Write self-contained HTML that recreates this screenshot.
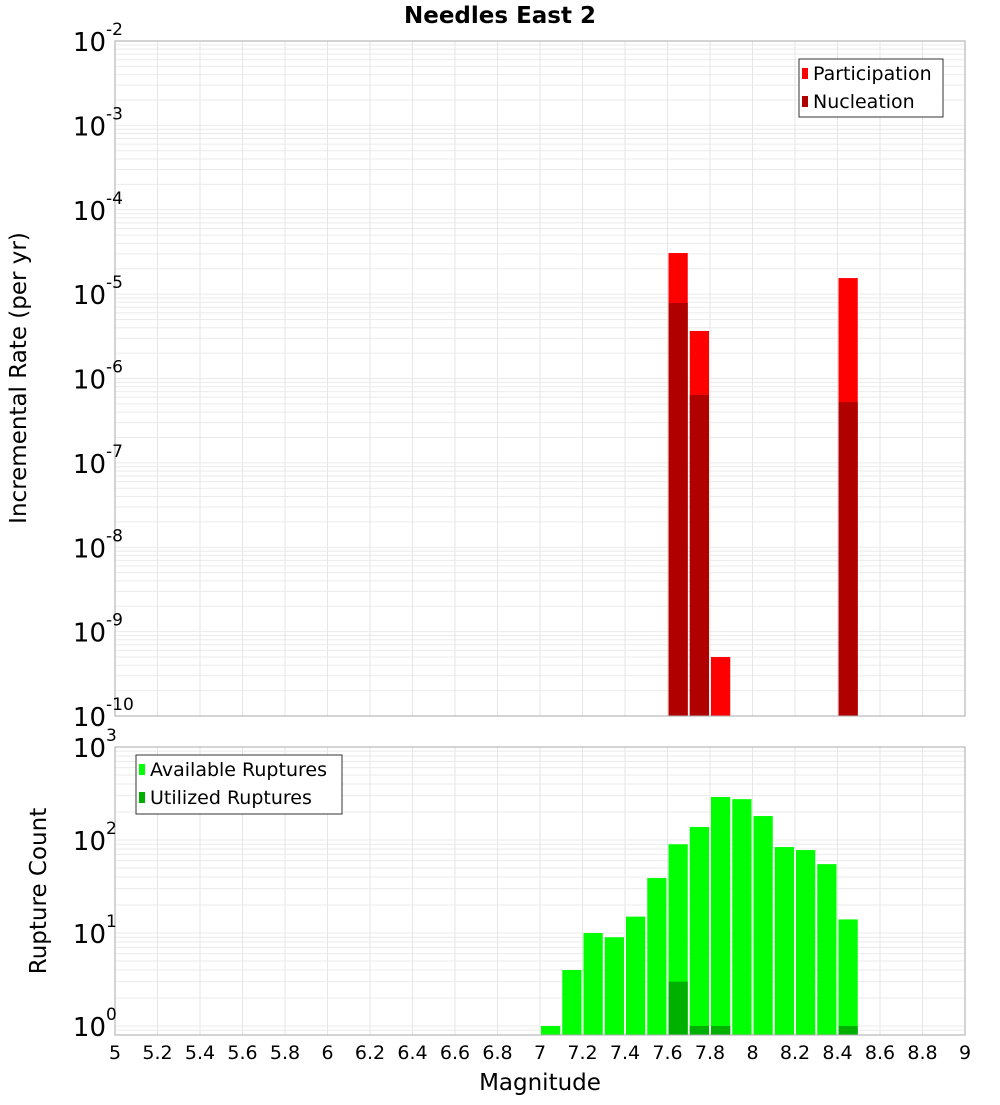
<!DOCTYPE html>
<html><head><meta charset="utf-8"><style>
body{margin:0;background:#fff}
svg text{font-family:"DejaVu Sans","Liberation Sans",sans-serif;fill:#000}
</style></head><body>
<svg id="c" width="1000" height="1100" xmlns="http://www.w3.org/2000/svg"></svg>
<script>
const bins = [7.0,7.1,7.2,7.3,7.4,7.5,7.6,7.7,7.8,7.9,8.0,8.1,8.2,8.3,8.4];
const partMags = [7.6,7.7,7.8,8.4];
const partVals = [3.07e-5,3.66e-6,5.0e-10,1.55e-5];
const nuclMags = [7.6,7.7,8.4];
const nuclVals = [7.85e-6,6.37e-7,5.25e-7];
const availVals = [1,4,10,9,15,39,90,138,290,275,181,84,78,55,14];
const utilMags = [7.6,7.7,7.8,8.4];
const utilVals = [3,1,1,1];
const xTicks = ["5","5.2","5.4","5.6","5.8","6","6.2","6.4","6.6","6.8","7","7.2","7.4","7.6","7.8","8","8.2","8.4","8.6","8.8","9"];
const topExps = [-2,-3,-4,-5,-6,-7,-8,-9,-10];
const botExps = [3,2,1,0];

const NS="http://www.w3.org/2000/svg";
const svg=document.getElementById('c');
function mk(t,a,p){const e=document.createElementNS(NS,t);for(const k in a)e.setAttribute(k,a[k]);(p||svg).appendChild(e);return e;}
const X0=115,X1=965;
const x=m=>X0+(m-5)/4*(X1-X0);
const T0=41,T1=716;
const yTop=v=>T0+(-2-Math.log10(v))*(T1-T0)/8;
const B0=747,B1=1035,BD=93;
const yBot=v=>B0+(3-Math.log10(v))*BD;

function grid(y0,y1,yf,expHi,expLo){
  const g=mk('g',{});
  
  
  for(let e=expLo-1;e<=expHi;e++)for(let k=1;k<10;k++){
    const v=k*Math.pow(10,e);const y=yf(v);
    if(y<y0-0.5||y>y1+0.5)continue;
    mk('line',{x1:X0,x2:X1,y1:y,y2:y,stroke:'#ebebeb','stroke-width':1},g);
  }
  xTicks.forEach(t=>{const xx=x(+t);mk('line',{x1:xx,x2:xx,y1:y0,y2:y1,stroke:'#e6e6e6','stroke-width':1},g);});
}
grid(T0,T1,yTop,-2,-10);
grid(B0,B1,yBot,3,-1);

function bar(m,v,yf,base,col,name){
  const y=yf(v);
  const r=mk('rect',{x:x(m)+1,y:y,width:x(m+0.1)-x(m)-2,height:base-y,fill:col});
  
  
}
partMags.forEach((m,i)=>bar(m,partVals[i],yTop,T1,'#ff0000','participation-bar'));
nuclMags.forEach((m,i)=>bar(m,nuclVals[i],yTop,T1,'#b00000','nucleation-bar'));
bins.forEach((m,i)=>bar(m,availVals[i],yBot,B1,'#00ff00','available-bar'));
utilMags.forEach((m,i)=>bar(m,utilVals[i],yBot,B1,'#00b000','utilized-bar'));

mk('rect',{x:X0,y:T0,width:X1-X0,height:T1-T0,fill:'none',stroke:'#aaa'});
mk('rect',{x:X0,y:B0,width:X1-X0,height:B1-B0,fill:'none',stroke:'#aaa'});

function ylab(y,e,name){
  const t=mk('text',{x:106,y:y+10,'text-anchor':'end','font-size':26});
  
  
  t.textContent='10';
  const s=mk('text',{x:106,y:y-6,'font-size':17});
  s.textContent=String(e);
}
topExps.forEach(e=>ylab(yTop(Math.pow(10,e)),e,'y-tick-label'));
botExps.forEach(e=>ylab(yBot(Math.pow(10,e)),e,'y-tick-label'));
xTicks.forEach(tk=>{
  const t=mk('text',{x:x(+tk),y:1059,'text-anchor':'middle','font-size':19});
  
  
  t.textContent=tk;
});

function txt(s,a,name){const t=mk('text',a);t.textContent=s;return t;}
txt('Needles East 2',{x:500,y:23,'text-anchor':'middle','font-size':23,'font-weight':'bold'},'chart-title');
txt('Magnitude',{x:540,y:1090,'text-anchor':'middle','font-size':23},'x-axis-title');
txt('Incremental Rate (per yr)',{x:0,y:0,'text-anchor':'middle','font-size':23,transform:'translate(26,378) rotate(-90)'},'top-y-axis-title');
txt('Rupture Count',{x:0,y:0,'text-anchor':'middle','font-size':23,transform:'translate(46,891) rotate(-90)'},'bottom-y-axis-title');

function legend(x0,y0,w,h,items,name){
  const g=mk('g',{});
  
  
  mk('rect',{x:x0,y:y0,width:w,height:h,fill:'#fff',stroke:'#333'},g);
  items.forEach((it,i)=>{
    const yy=y0+14+i*28;
    mk('rect',{x:x0+3,y:yy-5,width:6,height:11,fill:it[1]},g);
    const t=mk('text',{x:x0+14,y:yy+7,'font-size':19},g);t.textContent=it[0];
  });
}
legend(799,59,144,58,[['Participation','#ff0000'],['Nucleation','#b00000']],'top-legend');
legend(136,755,206,59,[['Available Ruptures','#00ff00'],['Utilized Ruptures','#00b000']],'bottom-legend');
</script>
</body></html>
